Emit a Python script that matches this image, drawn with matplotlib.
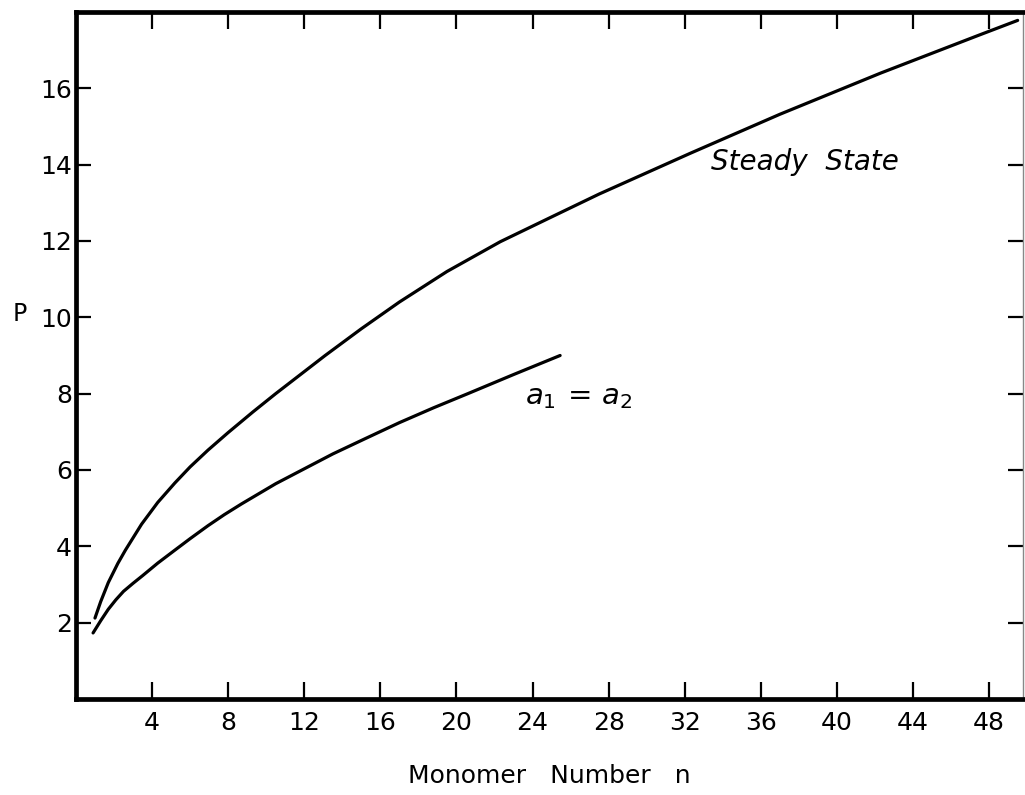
import numpy as np
import matplotlib
matplotlib.use('Agg')
import matplotlib.pyplot as plt

# Mean polymer length P against monomer number n
STEADY_N = [1.0, 1.3, 1.7, 2.2, 2.6, 3.45, 4.3, 5.2, 6.0, 6.94, 8.0, 9.3,
            10.5, 11.8, 13.1, 15.0, 17.0, 19.5, 22.3, 25.0, 27.5, 32.3,
            37.0, 42.3, 47.5, 49.5]
STEADY_P = [2.12, 2.55, 3.05, 3.55, 3.9, 4.58, 5.15, 5.66, 6.08, 6.52,
            6.98, 7.52, 8.0, 8.5, 9.0, 9.7, 10.4, 11.2, 11.98, 12.63, 13.23,
            14.3, 15.32, 16.4, 17.4, 17.78]

EQUAL_N = [0.9, 1.3, 1.7, 2.1, 2.5, 3.0, 3.5, 4.3, 5.2, 6.0, 6.94, 7.8,
           8.7, 10.5, 12.0, 13.5, 15.2, 17.0, 18.8, 20.6, 23.0, 25.45]
EQUAL_P = [1.73, 2.05, 2.35, 2.6, 2.82, 3.03, 3.23, 3.56, 3.9, 4.2, 4.54,
           4.83, 5.11, 5.64, 6.03, 6.42, 6.82, 7.24, 7.63, 8.0, 8.5, 9.0]

X_TICKS = [4, 8, 12, 16, 20, 24, 28, 32, 36, 40, 44, 48]
Y_TICKS = [2, 4, 6, 8, 10, 12, 14, 16]

plt.rcParams['font.family'] = ['DejaVu Sans']
plt.rcParams['mathtext.fontset'] = 'dejavusans'


def style_axes(ax):
    ax.set_xlim(0, 49.8)
    ax.set_ylim(0, 18)
    ax.set_xticks(X_TICKS)
    ax.set_yticks(Y_TICKS)
    ax.set_xticklabels([str(t) for t in X_TICKS])
    ax.set_yticklabels([str(t) for t in Y_TICKS])

    ax.tick_params(axis='x', direction='in', length=12, width=1.6,
                   labelsize=18, pad=9, top=True)
    ax.tick_params(axis='y', direction='in', length=11, width=1.6,
                   labelsize=18, pad=3, right=True)

    for side in ['left', 'bottom', 'top']:
        ax.spines[side].set_linewidth(3.4)
    ax.spines['right'].set_linewidth(1.0)
    ax.spines['right'].set_color('#888888')

    ax.set_xlabel('Monomer   Number   n', fontsize=18)
    ax.xaxis.set_label_coords(0.5, -0.112)
    ax.xaxis.label.set_va('center')
    ax.set_ylabel('P', fontsize=17, rotation=0, ha='center', va='center')
    ax.yaxis.set_label_coords(-0.059, 0.561)


def main() -> None:
    fig = plt.figure(figsize=(10.25, 7.95), dpi=100)
    ax = fig.add_axes([0.0741, 0.1208, 0.9243, 0.8641])

    ax.plot(STEADY_N, STEADY_P, color='black', lw=2.3,
            solid_capstyle='round', solid_joinstyle='round', clip_on=False)
    ax.plot(EQUAL_N, EQUAL_P, color='black', lw=2.3,
            solid_capstyle='round', solid_joinstyle='round')

    ax.text(33.4, 14.07, 'Steady  State', fontsize=20, style='italic',
            va='center', ha='left')
    ax.text(23.6, 7.9, r'$a_1\,=\,a_2$', fontsize=21,
            va='center', ha='left')

    style_axes(ax)
    fig.savefig('out.png', dpi=100)


if __name__ == "__main__":
    main()
